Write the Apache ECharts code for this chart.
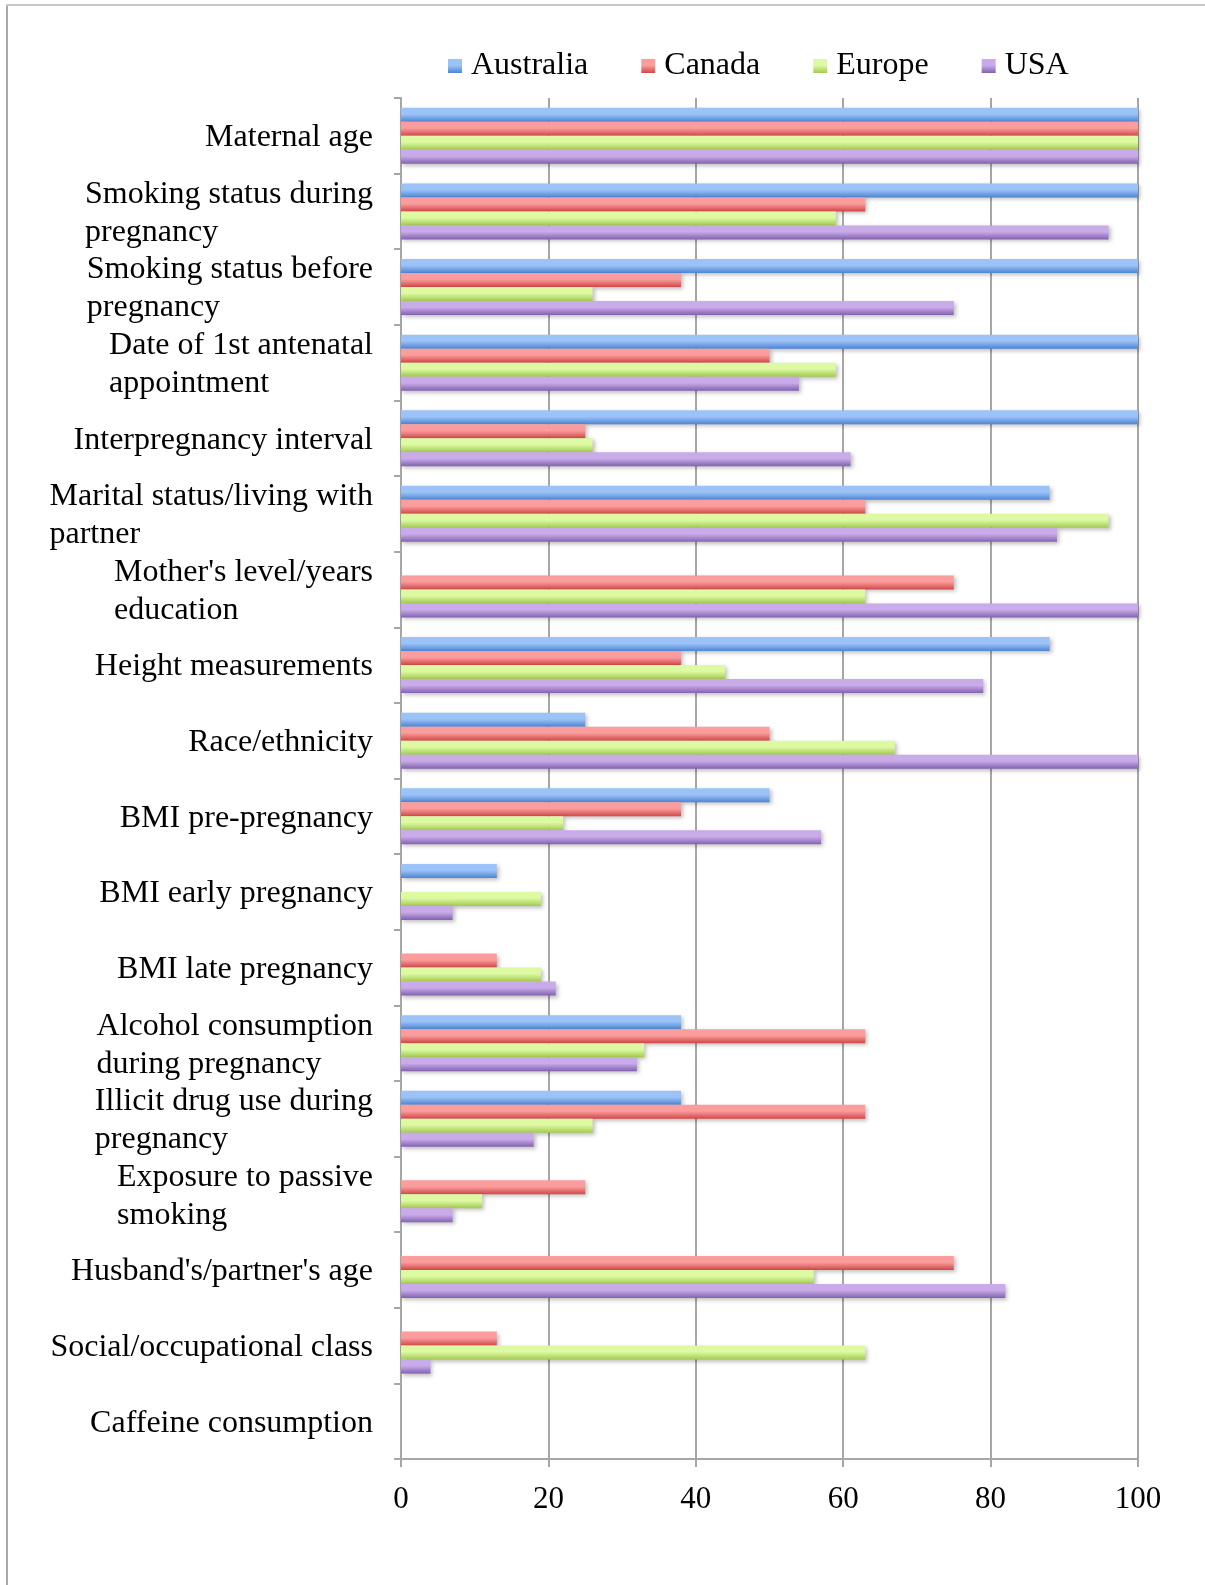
<!DOCTYPE html>
<html>
<head>
<meta charset="utf-8">
<script src="https://cdn.jsdelivr.net/npm/echarts@6/dist/echarts.min.js"></script>
<style>
  html, body { margin: 0; padding: 0; background: #fff; }
  #chart { width: 1205px; height: 1585px; }
</style>
</head>
<body>
<div id="chart"></div>
<script>
// chart data
var categories = [
  "Maternal age",
  "Smoking status during\npregnancy",
  "Smoking status before\npregnancy",
  "Date of 1st antenatal\nappointment",
  "Interpregnancy interval",
  "Marital status/living with\npartner",
  "Mother's level/years\neducation",
  "Height measurements",
  "Race/ethnicity",
  "BMI pre-pregnancy",
  "BMI early pregnancy",
  "BMI late pregnancy",
  "Alcohol consumption\nduring pregnancy",
  "Illicit drug use during\npregnancy",
  "Exposure to passive\nsmoking",
  "Husband's/partner's age",
  "Social/occupational class",
  "Caffeine consumption"
];
var australia = [100, 100, 100, 100, 100, 88, 0, 88, 25, 50, 13, 0, 38, 38, 0, 0, 0, 0];
var canada = [100, 63, 38, 50, 25, 63, 75, 38, 50, 38, 0, 13, 63, 63, 25, 75, 13, 0];
var europe = [100, 59, 26, 59, 26, 96, 63, 44, 67, 22, 19, 19, 33, 26, 11, 56, 63, 0];
var usa = [100, 96, 75, 54, 61, 89, 100, 79, 100, 57, 7, 21, 32, 18, 7, 82, 4, 0];
var xTicks = [0, 20, 40, 60, 80, 100];

var font = "'Liberation Serif', 'Times New Roman', serif";

function grad(top, bottom) {
  return new echarts.graphic.LinearGradient(0, 0, 0, 1, [
    { offset: 0, color: top },
    { offset: 0.45, color: top },
    { offset: 1, color: bottom }
  ]);
}

function barSeries(name, data, top, bottom) {
  return {
    name: name,
    type: "bar",
    data: data,
    barWidth: 14,
    barGap: "0%",
    itemStyle: {
      color: grad(top, bottom),
      shadowColor: "rgba(0,0,0,0.25)",
      shadowBlur: 4,
      shadowOffsetX: 2,
      shadowOffsetY: 2
    }
  };
}

var chart = echarts.init(document.getElementById("chart"));
chart.setOption({
  animation: false,
  backgroundColor: "#fff",
  graphic: [
    { type: "line", shape: { x1: 7, y1: 5, x2: 7, y2: 1585 }, style: { stroke: "#a9a9a9", lineWidth: 2 } },
    { type: "line", shape: { x1: 6, y1: 5, x2: 1205, y2: 5 }, style: { stroke: "#c8c8c8", lineWidth: 2 } }
  ],
  legend: {
    left: 443,
    top: 45,
    itemWidth: 14,
    itemHeight: 14,
    itemGap: 53,
    icon: "rect",
    textStyle: {
      fontFamily: font,
      fontSize: 32,
      color: "#000",
      padding: [0, 0, 0, 4]
    },
    data: ["Australia", "Canada", "Europe", "USA"]
  },
  grid: {
    left: 401,
    right: 67,
    top: 98,
    bottom: 126,
    containLabel: false,
    outerBoundsMode: "none"
  },
  xAxis: {
    type: "value",
    min: xTicks[0],
    max: xTicks[xTicks.length - 1],
    interval: 20,
    axisLine: { show: true, lineStyle: { color: "#a6a6a6", width: 2 } },
    axisTick: { show: true, length: 8, lineStyle: { color: "#a6a6a6", width: 2 } },
    splitLine: { show: true, lineStyle: { color: "#a6a6a6", width: 2 } },
    axisLabel: {
      margin: 25,
      fontFamily: font,
      fontSize: 31,
      color: "#000"
    }
  },
  yAxis: {
    type: "category",
    inverse: true,
    data: categories,
    axisLine: { show: true, lineStyle: { color: "#a6a6a6", width: 2 } },
    axisTick: { show: true, length: 7, lineStyle: { color: "#a6a6a6", width: 2 } },
    axisLabel: {
      margin: 28,
      align: "right",
      padding: [4, 0, 0, 0],
      formatter: function (val) {
        return val.split("\n").map(function (s) { return "{l|" + s + "}"; }).join("\n");
      },
      rich: {
        l: {
          align: "left",
          fontFamily: font,
          fontSize: 32,
          lineHeight: 38,
          color: "#000"
        }
      }
    }
  },
  series: [
    barSeries("Australia", australia, "#9cc3f8", "#4d84d4"),
    barSeries("Canada", canada, "#fb9d9c", "#d14748"),
    barSeries("Europe", europe, "#ddf9a2", "#a2ca52"),
    barSeries("USA", usa, "#c9abe9", "#8262af")
  ]
});
</script>
</body>
</html>
